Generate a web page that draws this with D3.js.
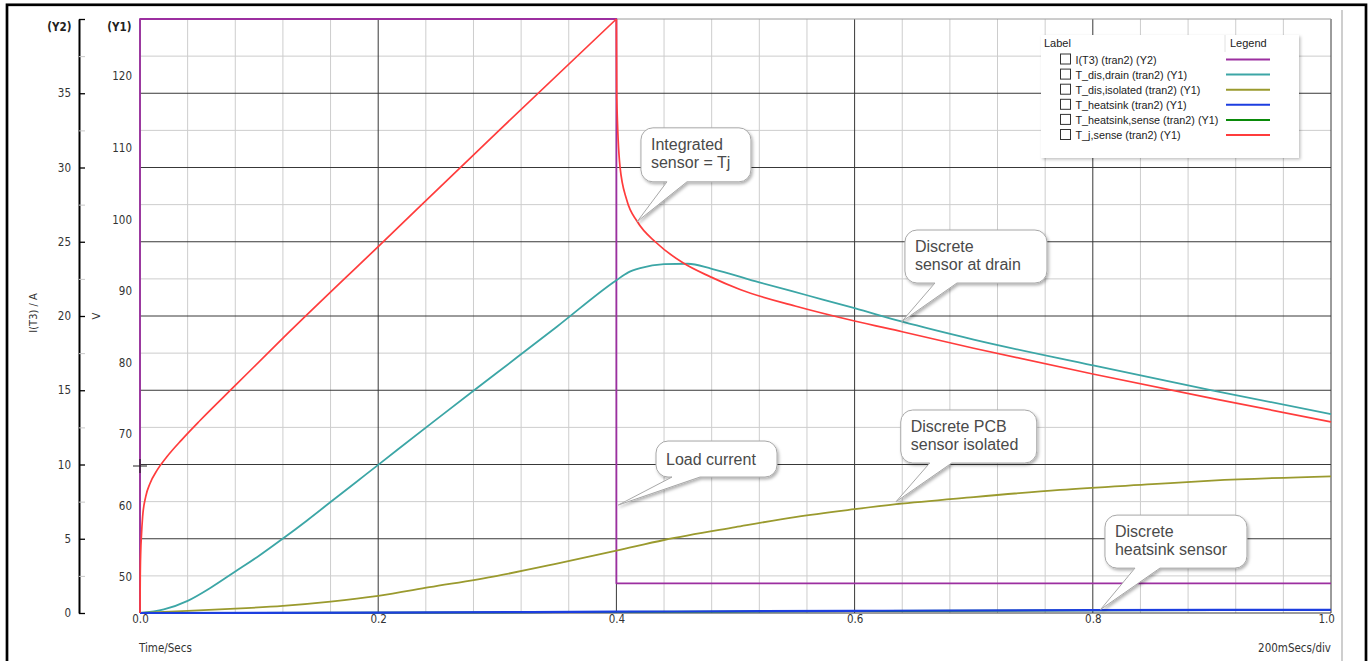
<!DOCTYPE html>
<html>
<head>
<meta charset="utf-8">
<script src="https://cdn.jsdelivr.net/npm/d3@7"></script>
<style>
  html, body { margin: 0; padding: 0; background: #fff; }
  svg { display: block; }
  .axis text { font-family: "DejaVu Sans Condensed", "DejaVu Sans", sans-serif; font-size: 11.5px; fill: #333; }
  .callout text { font-family: "Liberation Sans", Arial, sans-serif; font-size: 16px; fill: #4a4a4a; }
  .legend text { font-family: "Liberation Sans", Arial, sans-serif; font-size: 10.5px; fill: #222; }
</style>
</head>
<body>
<script>
// ---------------- data ----------------
const xTicks = [0, 0.2, 0.4, 0.6, 0.8, 1.0];
const y1Ticks = [50, 60, 70, 80, 90, 100, 110, 120];
const y2Ticks = [0, 5, 10, 15, 20, 25, 30, 35, 40];
const y2MinorTicks = [2.5, 7.5, 12.5, 17.5, 22.5, 27.5, 32.5, 37.5];

const seriesNames = ["I(T3) (tran2) (Y2)", "T_dis,drain (tran2) (Y1)", "T_dis,isolated (tran2) (Y1)",
  "T_heatsink (tran2) (Y1)", "T_heatsink,sense (tran2) (Y1)", "T_j,sense (tran2) (Y1)"];
const seriesColors = ["#9c2fa0", "#3ca6a6", "#9a9a2e", "#1c3ee0", "#0a8a0a", "#ff3c3c"];

// I(T3) load current [t, A]
const iT3 = [[0, 0], [0, 40], [0.4, 40], [0.4, 2.0], [1.0, 2.0]];
// T_dis,drain [t, degC]
const tDisDrain = [[0, 45], [0.02, 45.5], [0.04, 46.7], [0.06, 48.6], [0.08, 50.8], [0.1, 53.0], [0.12, 55.4],
  [0.14, 57.9], [0.16, 60.5], [0.18, 63.1], [0.2, 65.7], [0.25, 72.2], [0.3, 78.6], [0.35, 85.0], [0.4, 91.5],
  [0.41, 92.6], [0.42, 93.2], [0.44, 93.75], [0.46, 93.8], [0.48, 93.1], [0.52, 91.2], [0.56, 89.4], [0.6, 87.6],
  [0.64, 85.7], [0.7, 83.2], [0.8, 79.6], [0.9, 76.1], [1.0, 72.8]];
// T_dis,isolated
const tDisIsolated = [[0, 45], [0.04, 45.3], [0.08, 45.6], [0.12, 46.0], [0.16, 46.6], [0.2, 47.4], [0.243, 48.6],
  [0.3, 50.2], [0.35, 51.9], [0.4, 53.7], [0.44, 55.2], [0.5, 57.0], [0.55, 58.4], [0.6, 59.5], [0.635, 60.2],
  [0.7, 61.2], [0.7725, 62.2], [0.85, 63.0], [0.9, 63.5], [1.0, 64.1]];
// T_heatsink
const tHeatsink = [[0, 45], [0.2, 45.05], [0.4, 45.18], [0.6, 45.3], [0.8, 45.4], [1.0, 45.45]];
// T_heatsink,sense
const tHeatsinkSense = [[0, 45], [0.2, 45.04], [0.4, 45.15], [0.6, 45.27], [0.8, 45.37], [1.0, 45.42]];
// T_j,sense: heating phase and cooling phase
const tJSenseRise = [[0, 45], [0.0002, 50], [0.0006, 53.5], [0.0012, 55.8], [0.0022, 58.45], [0.0048, 61.25],
  [0.0084, 63.1], [0.0145, 65.0], [0.0224, 66.8], [0.035, 69.2], [0.0504, 71.9], [0.08, 76.8], [0.12, 83.4],
  [0.2, 96.2], [0.3, 112.2], [0.4, 128]];
const tJSenseFall = [[0.4, 128], [0.4003, 117], [0.403, 107.4], [0.4087, 102.7], [0.4175, 99.7], [0.4338, 96.7],
  [0.4562, 93.9], [0.4786, 92.0], [0.5038, 90.2], [0.55, 87.9], [0.6, 85.8], [0.64, 84.3], [0.7, 82.0],
  [0.8, 78.4], [0.9, 75.0], [1.0, 71.7]];

// annotations: tip at (t, value) on axis
const annotations = [
  { lines: ["Integrated", "sensor = Tj"], t: 0.4175, v: 99.7, axis: "y1" },
  { lines: ["Discrete", "sensor at drain"], t: 0.6395, v: 85.7, axis: "y1" },
  { lines: ["Load current"], t: 0.4016, v: 7.27, axis: "y2" },
  { lines: ["Discrete PCB", "sensor isolated"], t: 0.6348, v: 60.55, axis: "y1" },
  { lines: ["Discrete", "heatsink sensor"], t: 0.8066, v: 45.5, axis: "y1" }
];
// box geometry relative to tip (layout, not data)
const annoBoxes = [
  { dx: 3.7, dy: -93.7, w: 110, h: 54, b1: 26, b2: 46 },
  { dx: 3.3, dy: -91.7, w: 142, h: 53, b1: 30, b2: 52 },
  { dx: 37.7, dy: -64, w: 121, h: 36, b1: 16, b2: 44 },
  { dx: 4.7, dy: -91.7, w: 136, h: 53, b1: 29, b2: 51 },
  { dx: 4.3, dy: -94.3, w: 142, h: 53, b1: 30, b2: 55 }
];

// ---------------- drawing ----------------
const W = 1370, H = 661;
const L = 140, R = 1331, T = 19, B = 613;
const svg = d3.select("body").append("svg").attr("width", W).attr("height", H);

const defs = svg.append("defs");
const f = defs.append("filter").attr("id", "shadow").attr("x", "-20%").attr("y", "-20%").attr("width", "140%").attr("height", "150%");
f.append("feDropShadow").attr("dx", 1.5).attr("dy", 2).attr("stdDeviation", 1.6).attr("flood-color", "#000").attr("flood-opacity", 0.3);
const f2 = defs.append("filter").attr("id", "lshadow").attr("x", "-10%").attr("y", "-10%").attr("width", "120%").attr("height", "130%");
f2.append("feDropShadow").attr("dx", 1.5).attr("dy", 1.5).attr("stdDeviation", 1.5).attr("flood-color", "#000").attr("flood-opacity", 0.25);

svg.append("rect").attr("width", W).attr("height", H).attr("fill", "#fff");

const x = d3.scaleLinear().domain([0, 1]).range([L, R]);
const y1 = d3.scaleLinear().domain([45, 128]).range([B, T]);
const y2 = d3.scaleLinear().domain([0, 40]).range([B, T]);

// frame
svg.append("rect").attr("x", 7).attr("y", 4.8).attr("width", 1359).attr("height", 700)
  .attr("fill", "none").attr("stroke", "#000").attr("stroke-width", 2.7);
svg.append("line").attr("x1", 1342).attr("x2", 1342).attr("y1", 10).attr("y2", H)
  .attr("stroke", "#b4b4b4").attr("stroke-width", 1.3);

// grid
const grid = svg.append("g");
const xMinor = d3.range(0, 1.0001, 0.04).filter(v => Math.abs(v / 0.2 - Math.round(v / 0.2)) > 1e-6);
grid.selectAll(".vx").data(xMinor).join("line")
  .attr("x1", d => x(d)).attr("x2", d => x(d)).attr("y1", T).attr("y2", B)
  .attr("stroke", "#cdcdcd").attr("stroke-width", 1);
grid.selectAll(".hy").data(y2MinorTicks).join("line")
  .attr("x1", L).attr("x2", R).attr("y1", d => y2(d)).attr("y2", d => y2(d))
  .attr("stroke", "#cdcdcd").attr("stroke-width", 1);
grid.selectAll(".vX").data(xTicks).join("line")
  .attr("x1", d => x(d)).attr("x2", d => x(d)).attr("y1", T).attr("y2", B)
  .attr("stroke", "#383838").attr("stroke-width", 1);
grid.selectAll(".hY").data(y2Ticks).join("line")
  .attr("x1", L).attr("x2", R).attr("y1", d => y2(d)).attr("y2", d => y2(d))
  .attr("stroke", d => d === 40 ? "#9a9a9a" : "#383838").attr("stroke-width", 1);

// Y2 axis (left, with line)
const ax2 = svg.append("g").attr("class", "axis").attr("transform", "translate(79,0)")
  .call(d3.axisLeft(y2).tickValues(y2Ticks).tickSizeInner(-6).tickSizeOuter(0).tickPadding(8)
    .tickFormat(d => d === 40 ? "" : d));
ax2.select(".domain").attr("stroke", "#000").attr("stroke-width", 2);
ax2.selectAll(".tick line").attr("stroke", "#000").attr("stroke-width", 1.3);
const ax2m = svg.append("g").attr("transform", "translate(79,0)")
  .call(d3.axisLeft(y2).tickValues(y2MinorTicks).tickSizeInner(-6).tickSizeOuter(0).tickFormat(""));
ax2m.select(".domain").remove();
ax2m.selectAll(".tick line").attr("stroke", "#c8c8c8").attr("stroke-width", 1);

// Y1 axis (labels only)
const ax1 = svg.append("g").attr("class", "axis").attr("transform", "translate(132,0)")
  .call(d3.axisLeft(y1).tickValues(y1Ticks).tickSize(0).tickPadding(0));
ax1.select(".domain").remove();

// X axis labels
const axx = svg.append("g").attr("class", "axis").attr("transform", `translate(0,${B})`)
  .call(d3.axisBottom(x).tickValues(xTicks).tickSize(0).tickPadding(2).tickFormat(d3.format(".1f")));
axx.select(".domain").remove();
axx.selectAll(".tick text").filter(d => d === 1).attr("text-anchor", "end").attr("dx", "0.3em");

// axis titles
const lab = svg.append("g").attr("class", "axis");
lab.append("text").attr("x", 71.5).attr("y", 31).attr("text-anchor", "end").attr("font-weight", "bold").style("fill", "#222").text("(Y2)");
lab.append("text").attr("x", 131.5).attr("y", 31).attr("text-anchor", "end").attr("font-weight", "bold").style("fill", "#222").text("(Y1)");
lab.append("text").attr("transform", "translate(37,313) rotate(-90)").attr("text-anchor", "middle").style("font-size", "11px").text("I(T3) / A");
lab.append("text").attr("transform", "translate(100,316) rotate(-90)").attr("text-anchor", "middle").style("font-size", "11px").text("V");
lab.append("text").attr("x", 139).attr("y", 652).text("Time/Secs");
lab.append("text").attr("x", 1331).attr("y", 652).attr("text-anchor", "end").text("200mSecs/div");

// series
const lines = svg.append("g");
const lineY1 = d3.line().x(d => x(d[0])).y(d => y1(d[1])).curve(d3.curveMonotoneX);
const lineY2 = d3.line().x(d => x(d[0])).y(d => y2(d[1]));
const draw = (data, gen, color, w) => lines.append("path").datum(data).attr("d", gen)
  .attr("fill", "none").attr("stroke", color).attr("stroke-width", w).attr("stroke-linejoin", "round");
draw(iT3, lineY2, seriesColors[0], 1.8);
draw(tDisDrain, lineY1, seriesColors[1], 1.8);
draw(tDisIsolated, lineY1, seriesColors[2], 1.8);
draw(tHeatsinkSense, lineY1, seriesColors[4], 1.8);
draw(tHeatsink, lineY1, seriesColors[3], 2.2);
draw(tJSenseRise, lineY1, seriesColors[5], 1.7);
draw(tJSenseFall, lineY1, seriesColors[5], 1.7);

// cursor cross
const cx = x(0), cy = y2(10) + 1.5;
svg.append("path").attr("d", `M${cx - 7},${cy}H${cx + 7}M${cx},${cy - 7}V${cy + 7}`)
  .attr("stroke", "#222").attr("stroke-width", 1.2).attr("fill", "none");

// callouts
function calloutPath(bx, by, w, h, r, b1, b2, tx, ty) {
  return `M${bx + r},${by}H${bx + w - r}A${r},${r} 0 0 1 ${bx + w},${by + r}V${by + h - r}` +
    `A${r},${r} 0 0 1 ${bx + w - r},${by + h}H${bx + b2}L${tx},${ty}L${bx + b1},${by + h}H${bx + r}` +
    `A${r},${r} 0 0 1 ${bx},${by + h - r}V${by + r}A${r},${r} 0 0 1 ${bx + r},${by}Z`;
}
const cg = svg.append("g").attr("class", "callout");
annotations.forEach((a, i) => {
  const g = annoBoxes[i];
  const tx = x(a.t), ty = (a.axis === "y1" ? y1 : y2)(a.v);
  const bx = tx + g.dx, by = ty + g.dy;
  cg.append("path").attr("d", calloutPath(bx, by, g.w, g.h, 12, g.b1, g.b2, tx, ty))
    .attr("fill", "#fff").attr("stroke", "#a8a8a8").attr("stroke-width", 1).attr("filter", "url(#shadow)");
  a.lines.forEach((s, j) => {
    cg.append("text").attr("x", bx + 10)
      .attr("y", a.lines.length === 1 ? by + g.h / 2 + 5.5 : by + 22 + j * 18).text(s);
  });
});

// legend
const lg = svg.append("g").attr("class", "legend");
lg.append("rect").attr("x", 1041).attr("y", 35).attr("width", 258).attr("height", 123)
  .attr("fill", "#fff").attr("filter", "url(#lshadow)");
lg.append("text").attr("x", 1044).attr("y", 46.5).style("font-size", "11px").text("Label");
lg.append("text").attr("x", 1230).attr("y", 46.5).style("font-size", "11px").text("Legend");
lg.append("line").attr("x1", 1225).attr("x2", 1225).attr("y1", 35).attr("y2", 52).attr("stroke", "#e2e2e2");
const rows = lg.selectAll(".row").data(seriesNames).join("g")
  .attr("transform", (d, i) => `translate(0,${59.5 + i * 15.1})`);
rows.append("rect").attr("x", 1060.5).attr("y", -5.5).attr("width", 10).attr("height", 10)
  .attr("fill", "#fff").attr("stroke", "#333").attr("stroke-width", 1);
rows.append("text").attr("x", 1075.5).attr("y", 4).style("font-size", "10.8px").text(d => d);
rows.append("line").attr("x1", 1226).attr("x2", 1270).attr("y1", 0).attr("y2", 0)
  .attr("stroke", (d, i) => seriesColors[i]).attr("stroke-width", 2);
</script>
</body>
</html>
